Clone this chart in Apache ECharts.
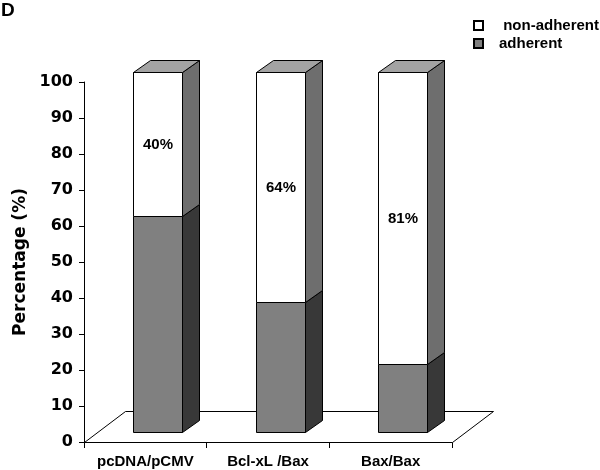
<!DOCTYPE html>
<html><head><meta charset="utf-8">
<script src="https://cdn.jsdelivr.net/npm/echarts@6/dist/echarts.min.js"></script>
<style>html,body{margin:0;padding:0;background:#fff}#chart{width:600px;height:470px}</style>
</head><body><div id="chart"></div>
<script>
const categories = ['pcDNA/pCMV', 'Bcl-xL /Bax', 'Bax/Bax'];
const adherent = [60, 36, 19];
const nonAdherent = [40, 64, 81];
const yTickValues = [0, 10, 20, 30, 40, 50, 60, 70, 80, 90, 100];

const FONT = '"Liberation Sans", Arial, sans-serif';
const WIDE = '"DejaVu Sans", sans-serif';
const BAR_W = 49, SHIFT_X = 12, SHIFT_Y = -10, DEPTH_X = 17, DEPTH_Y = -12;
const FLOOR_DX = 41, FLOOR_DY = -31;

function barRenderer(colors, withTop) {
  return function (params, api) {
    const cat = api.value(0), lo = api.value(1), hi = api.value(2);
    const pLo = api.coord([cat, lo]), pHi = api.coord([cat, hi]);
    const x0 = Math.round(pLo[0] - BAR_W / 2 + SHIFT_X) + 0.5, x1 = x0 + BAR_W;
    const yb = Math.round(pLo[1] + SHIFT_Y) + 0.5, yt = Math.round(pHi[1] + SHIFT_Y) + 0.5;
    const st = { stroke: '#000', lineWidth: 1 };
    const children = [
      { type: 'polygon', shape: { points: [[x1, yb], [x1 + DEPTH_X, yb + DEPTH_Y], [x1 + DEPTH_X, yt + DEPTH_Y], [x1, yt]] },
        style: Object.assign({ fill: colors.side }, st) },
      { type: 'rect', shape: { x: x0, y: yt, width: BAR_W, height: yb - yt },
        style: Object.assign({ fill: colors.front }, st) }
    ];
    if (withTop) {
      children.push({ type: 'polygon', shape: { points: [[x0, yt], [x0 + DEPTH_X, yt + DEPTH_Y], [x1 + DEPTH_X, yt + DEPTH_Y], [x1, yt]] },
        style: Object.assign({ fill: colors.top }, st) });
      children.push({ type: 'text', style: { text: Math.round(hi - lo) + '%', x: (x0 + x1) / 2, y: (yt + yb) / 2,
        align: 'center', verticalAlign: 'middle', fontSize: 15, fontWeight: 'bold', fontFamily: FONT, fill: '#000' } });
    }
    return { type: 'group', children: children };
  };
}

const chart = echarts.init(document.getElementById('chart'), null, { renderer: 'canvas' });
chart.setOption({
  animation: false,
  backgroundColor: '#fff',
  textStyle: { fontFamily: FONT },
  title: { text: 'D', left: 1, top: 1, padding: 0,
    textStyle: { fontSize: 19, fontWeight: 'bold', color: '#000', fontFamily: FONT } },
  legend: {
    orient: 'vertical', left: 473, top: 18, padding: 0, itemWidth: 9, itemHeight: 9, itemGap: 3, icon: 'rect',
    data: ['non-adherent', 'adherent'],
    formatter: function (n) { return n === 'non-adherent' ? ' ' + n : n; },
    textStyle: { fontSize: 15, fontWeight: 'bold', color: '#000', fontFamily: FONT, padding: [0, 0, 0, 11] }
  },
  grid: { left: 84, right: 148, top: 82, bottom: 28 },
  xAxis: {
    type: 'category', data: categories, boundaryGap: true,
    axisLine: { lineStyle: { color: '#000', width: 1 } },
    axisTick: { show: true, length: 6, alignWithLabel: false, lineStyle: { color: '#000' } },
    axisLabel: { margin: 12, fontSize: 15, fontWeight: 'bold', color: '#000', fontFamily: FONT, interval: 0 },
    splitLine: { show: false }
  },
  yAxis: {
    type: 'value', min: yTickValues[0], max: yTickValues[yTickValues.length - 1], interval: 10,
    name: 'Percentage (%)', nameLocation: 'middle', nameRotate: 90, nameGap: 50,
    nameTextStyle: { fontSize: 17, fontWeight: 'bold', color: '#000', fontFamily: WIDE },
    axisLine: { show: true, lineStyle: { color: '#000', width: 1 } },
    axisTick: { show: true, length: 5, lineStyle: { color: '#000' } },
    axisLabel: { margin: 11, fontSize: 16, fontWeight: 'bold', color: '#000', fontFamily: WIDE },
    splitLine: { show: false }
  },
  series: [
    {
      type: 'custom', name: 'floor', z: 1, silent: true, legendHoverLink: false,
      data: [[0, 0]], encode: { x: 0, y: 1 },
      renderItem: function (params, api) {
        const cs = params.coordSys;
        const xL = cs.x + 0.5, xR = cs.x + cs.width + 0.5, yF = Math.round(api.coord([0, 0])[1]) + 0.5;
        return { type: 'polygon', shape: { points: [[xL, yF], [xL + FLOOR_DX, yF + FLOOR_DY], [xR + FLOOR_DX, yF + FLOOR_DY], [xR, yF]] },
          style: { fill: '#fff', stroke: '#000', lineWidth: 1 } };
      }
    },
    {
      type: 'custom', name: 'adherent', z: 2,
      itemStyle: { color: '#808080', borderColor: '#000', borderWidth: 1 },
      data: categories.map(function (c, i) { return [i, 0, adherent[i]]; }),
      encode: { x: 0, y: [1, 2] },
      renderItem: barRenderer({ front: '#808080', side: '#383838', top: '#a0a0a0' }, false)
    },
    {
      type: 'custom', name: 'non-adherent', z: 3,
      itemStyle: { color: '#ffffff', borderColor: '#000', borderWidth: 1 },
      data: categories.map(function (c, i) { return [i, adherent[i], adherent[i] + nonAdherent[i]]; }),
      encode: { x: 0, y: [1, 2] },
      renderItem: barRenderer({ front: '#ffffff', side: '#6e6e6e', top: '#a3a3a3' }, true)
    }
  ]
});
</script></body></html>
